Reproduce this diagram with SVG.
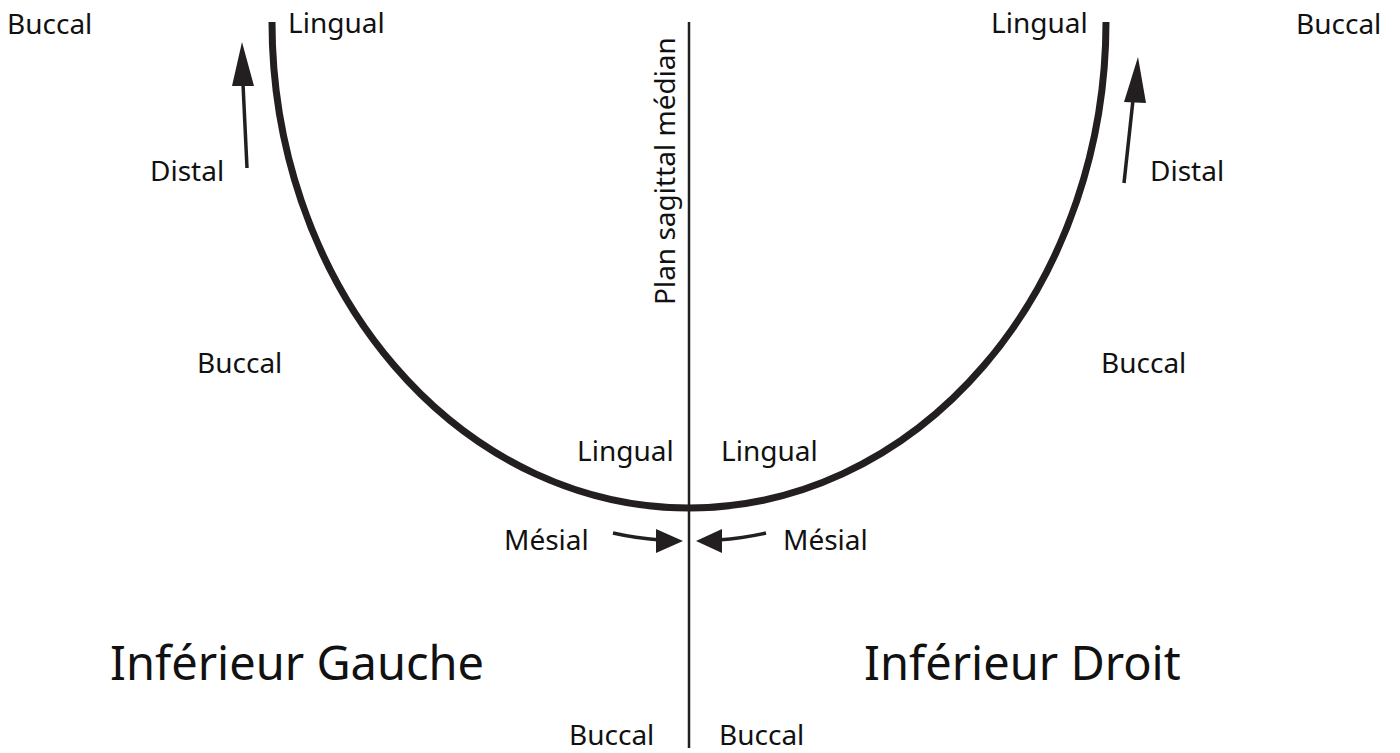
<svg xmlns="http://www.w3.org/2000/svg" width="1400" height="753" viewBox="0 0 1400 753">
<style>
text{font-family:"Noto Sans","Open Sans","Liberation Sans",sans-serif;fill:#111;}
.s{font-size:28px;}
.b{font-size:47px;}
.arc{fill:none;stroke:#231f20;stroke-width:7;}
.ax{fill:none;stroke:#231f20;stroke-width:2.5;}
.ar{fill:none;stroke:#231f20;stroke-width:3.5;}
</style>
<g id="connectors">
<line class="ax" x1="689" y1="22" x2="689" y2="748"/>
<path class="arc" d="M272,22 A417,486 0 0 0 1106,22"/>
<path d="M247,168 L243,84" class="ar"/><path d="M242,42 L232,86 L254,86 z" fill="#231f20"/>
<path d="M1124,183 L1133,100" class="ar"/><path d="M1138,57 L1124,102 L1146,103 z" fill="#231f20"/>
<path d="M613,533 Q635,538 660,540" class="ar"/><path d="M683,541 L656,529 L656,553 z" fill="#231f20"/>
<path d="M766,533 Q744,538 718,540" class="ar"/><path d="M696,541 L722,529 L722,553 z" fill="#231f20"/>
</g>
<g id="labels">
<text class="s" x="7" y="34">Buccal</text>
<text class="s" x="288" y="33">Lingual</text>
<text class="s" x="150" y="181">Distal</text>
<text class="s" x="197" y="373">Buccal</text>
<text class="s" x="577" y="461">Lingual</text>
<text class="s" x="721" y="461">Lingual</text>
<text class="s" x="504" y="550">Mésial</text>
<text class="s" x="783" y="550">Mésial</text>
<text class="s" x="569" y="745">Buccal</text>
<text class="s" x="719" y="745">Buccal</text>
<text class="s" x="991" y="33">Lingual</text>
<text class="s" x="1296" y="34">Buccal</text>
<text class="s" x="1150" y="181">Distal</text>
<text class="s" x="1101" y="373">Buccal</text>
<text class="s" transform="translate(675,305) rotate(-90)">Plan sagittal médian</text>
<text class="b" x="110" y="680">Inférieur Gauche</text>
<text class="b" x="864" y="680">Inférieur Droit</text>
</g>
</svg>
